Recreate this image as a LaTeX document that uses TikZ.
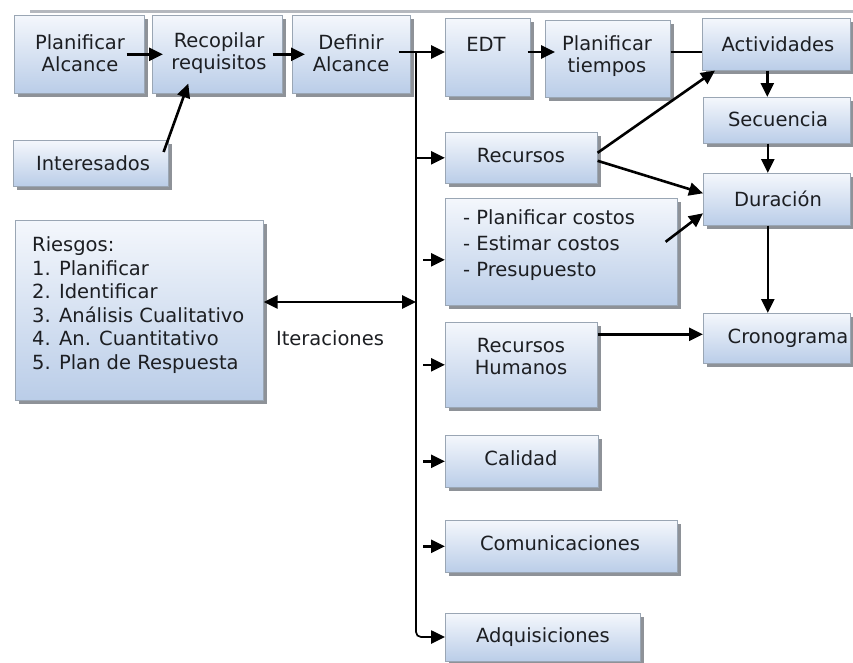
\documentclass[tikz,border=0pt]{standalone}
\usepackage{fontspec}
\setmainfont{DejaVu Sans}
\usetikzlibrary{arrows.meta,shadows,calc}
\definecolor{boxtop}{HTML}{F4F7FC}
\definecolor{boxbot}{HTML}{BACDE8}
\definecolor{boxborder}{HTML}{9AA6B4}
\definecolor{shadowgray}{HTML}{8E9298}
\definecolor{textcol}{HTML}{1C1E22}
\definecolor{bandgray}{HTML}{B4B8BE}
\tikzset{
  box/.style={draw=boxborder, line width=0.6pt, top color=boxtop, bottom color=boxbot,
    inner sep=0pt, anchor=north west,
    drop shadow={shadow xshift=3.5pt, shadow yshift=-4pt, fill=shadowgray, opacity=1}},
  txt/.style={align=center, inner sep=0pt, text=textcol, font=\fontsize{19.5}{22}\selectfont},
  ltxt/.style={align=left, inner sep=0pt, text=textcol, anchor=west},
  conn/.style={line width=2.6pt, black},
  thin conn/.style={line width=1.7pt, black},
  arr/.style={conn, -{Triangle[length=14pt,width=13pt]}},
  darr/.style={conn, {Triangle[length=14pt,width=13pt]}-{Triangle[length=14pt,width=13pt]}}
}
\newcommand\mkbox[5]{\node[box, minimum width=#4pt, minimum height=#5pt] (#1) at (#2,#3) {};}
\begin{document}
\begin{tikzpicture}[x=1pt,y=-1pt]
\useasboundingbox (0,0) rectangle (853,662);
% top band
\coordinate (bandL) at (30,11.5);
\coordinate (bandR) at (853,11.5);
\draw[bandgray, line width=3pt] (bandL) -- (bandR);
% boxes
\mkbox{plan}{14}{15}{130}{78}
\mkbox{recop}{152}{15}{130}{78}
\mkbox{defin}{292}{15}{118}{78}
\mkbox{inter}{13}{140}{155}{46}
\mkbox{edt}{445}{18}{85}{78}
\mkbox{plant}{545}{20}{125}{77}
\mkbox{activ}{702}{18}{148}{52}
\mkbox{secu}{703}{97}{147}{46}
\mkbox{recur}{445}{132}{152}{51}
\mkbox{dur}{703}{173}{147}{52}
\mkbox{costs}{445}{198}{232}{107}
\mkbox{rh}{445}{322}{152}{85}
\mkbox{crono}{703}{313}{147}{50}
\mkbox{riesg}{15}{220}{248}{180}
\mkbox{calid}{445}{435}{153}{52}
\mkbox{comun}{445}{520}{232}{52}
\mkbox{adqui}{445}{613}{195}{48}
% texts
\node[txt] (plan-t) at (80,53) {Planificar\\Alcance};
\node[txt] (recop-t) at (219,53) {Recopilar\\requisitos};
\node[txt] (defin-t) at (351,53) {Definir\\Alcance};
\node[txt] (inter-t) at (93,163) {Interesados};
\node[txt] (edt-t) at (486,44) {EDT};
\node[txt] (plant-t) at (607,56) {Planificar\\tiempos};
\node[txt] (activ-t) at (778,44) {Actividades};
\node[txt] (secu-t) at (778,119) {Secuencia};
\node[txt] (recur-t) at (521,156) {Recursos};
\node[txt] (dur-t) at (778,199) {Duración};
\node[ltxt, font=\fontsize{19.5}{26}\selectfont] (costs-t) at (463,245) {- Planificar costos\\- Estimar costos\\- Presupuesto};
\node[txt] (rh-t) at (521,357) {Recursos\\Humanos};
\node[txt] (crono-t) at (788,338) {Cronograma};
\node[ltxt, font=\fontsize{19.5}{23.5}\selectfont] (riesg-t) at (32,305) {Riesgos:\\1. Planificar\\2. Identificar\\3. Análisis Cualitativo\\4. An. Cuantitativo\\5. Plan de Respuesta};
\node[txt] (calid-t) at (521,458) {Calidad};
\node[txt] (comun-t) at (560,543) {Comunicaciones};
\node[txt] (adqui-t) at (543,637) {Adquisiciones};
\node[txt] (iter) at (330,338) {Iteraciones};
% connectors
\coordinate (tj) at (416,52);
\coordinate (tb) at (416,637);
\coordinate (tc) at (424,637);
\coordinate (it) at (416,302);
\draw[arr] ([xshift=-18pt]plan.east) -- ([xshift=11pt]recop.west);
\draw[arr] ([xshift=-10pt]recop.east) -- ([xshift=13pt]defin.west);
\draw[arr] ([xshift=-5pt,yshift=-12pt]inter.north east) -- ([xshift=-29pt,yshift=10pt]recop.south);
\draw[conn] ([xshift=-12pt]defin.east |- tj) -- (tj);
\draw[arr] (tj) -- (edt.west |- tj);
\draw[thin conn, rounded corners=5pt] (tj) -- (tb) -- (tc);
\draw[arr] (tc) -- (adqui.west |- tc);
\draw[arr] (recur.west -| tj) -- (recur.west);
\draw[arr] ([yshift=-8pt,xshift=7pt]costs.west -| tj) -- ([yshift=-8pt]costs.west);
\draw[arr] ([xshift=7pt]rh.west -| tj) -- (rh.west);
\draw[arr] ([xshift=7pt]calid.west -| tj) -- (calid.west);
\draw[arr] ([xshift=7pt]comun.west -| tj) -- (comun.west);
\draw[darr] (riesg.east |- it) -- (it);
\draw[arr] ([xshift=-3pt]edt.east |- tj) -- ([xshift=10pt]plant.west |- tj);
\draw[conn] (plant.east |- tj) -- (activ.west |- tj);
\draw[arr] ([xshift=-9pt]activ.south) -- ([xshift=-9pt]activ.south |- secu.north);
\draw[arr] ([xshift=-9pt]secu.south) -- ([xshift=-9pt]secu.south |- dur.north);
\draw[arr] ([xshift=-9pt]dur.south) -- ([xshift=-9pt]dur.south |- crono.north);
\draw[arr] ([yshift=5pt]recur.east) -- ([xshift=13pt]activ.south west);
\draw[arr] ([yshift=-3pt]recur.east) -- ([yshift=6pt]dur.west);
\draw[arr] ([xshift=-12pt,yshift=10pt]costs.east) -- ([yshift=-14pt]dur.west);
\draw[arr] ([yshift=4pt]crono.west -| rh.east) -- ([yshift=4pt]crono.west);
\end{tikzpicture}
\end{document}
